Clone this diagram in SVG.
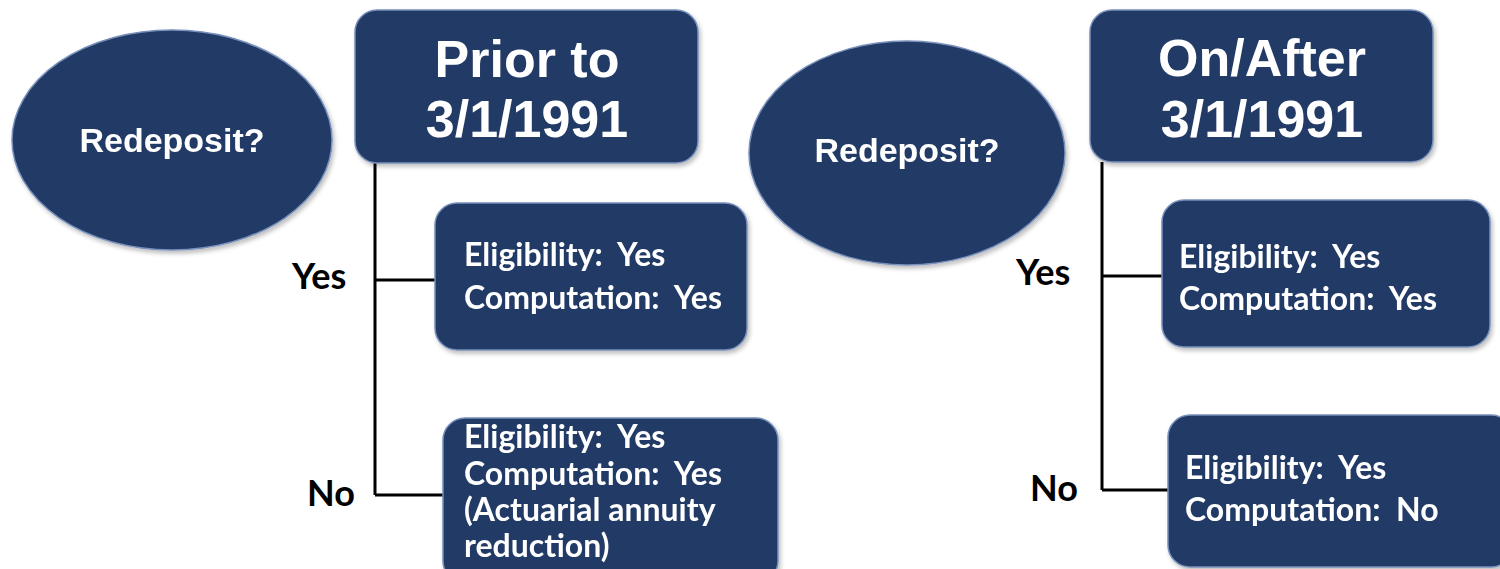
<svg xmlns="http://www.w3.org/2000/svg" width="1500" height="569" viewBox="0 0 1500 569">
<defs>
<style>
.node{fill:#223a66;stroke:#7890bb;stroke-width:1.5}
.title{font-family:"Liberation Sans",Arial,sans-serif;font-weight:bold;fill:#fff;text-anchor:middle}
.body{font-family:Lato,"Liberation Sans",sans-serif;font-weight:bold;fill:#fff;font-size:32px;white-space:pre}
.lbl{font-family:Lato,"Liberation Sans",sans-serif;font-weight:bold;fill:#000;font-size:36px}
.conn{stroke:#000;stroke-width:3;fill:none}
</style>
<filter id="sh" x="-10%" y="-10%" width="120%" height="120%">
<feDropShadow dx="2" dy="3" stdDeviation="2" flood-color="#000" flood-opacity="0.25"/>
</filter>
</defs>
<rect width="1500" height="569" fill="#fff"/>
<g id="connectors">
<path class="conn" d="M375,163 V495 M375,280 H436 M375,495 H444"/>
<path class="conn" d="M1102,162 V490 M1102,276 H1163 M1102,490 H1169"/>
</g>
<g id="q1" filter="url(#sh)">
<ellipse class="node" cx="172" cy="140" rx="160" ry="110"/>
<text class="title" x="172" y="152" font-size="34">Redeposit?</text>
</g>
<g id="h1" filter="url(#sh)">
<rect class="node" x="355" y="10" width="343" height="153" rx="22"/>
<text class="title" x="527" y="77" font-size="52">Prior to</text>
<text class="title" x="527" y="137" font-size="52">3/1/1991</text>
</g>
<g id="y1" filter="url(#sh)">
<rect class="node" x="435" y="203" width="312" height="147" rx="22"/>
<text class="body" x="464" y="266" xml:space="preserve">Eligibility:  Yes</text>
<text class="body" x="464" y="309" xml:space="preserve">Computation:  Yes</text>
</g>
<g id="n1" filter="url(#sh)">
<rect class="node" x="443" y="418" width="335" height="165" rx="22"/>
<text class="body" x="464" y="448" xml:space="preserve">Eligibility:  Yes</text>
<text class="body" x="464" y="485" xml:space="preserve">Computation:  Yes</text>
<text class="body" x="464" y="521">(Actuarial annuity</text>
<text class="body" x="464" y="557">reduction)</text>
</g>
<text class="lbl" x="292" y="289">Yes</text>
<text class="lbl" x="307" y="506">No</text>
<g id="q2" filter="url(#sh)">
<ellipse class="node" cx="907" cy="153" rx="158" ry="112"/>
<text class="title" x="907" y="162" font-size="34">Redeposit?</text>
</g>
<g id="h2" filter="url(#sh)">
<rect class="node" x="1090" y="10" width="343" height="152" rx="22"/>
<text class="title" x="1262" y="76" font-size="52">On/After</text>
<text class="title" x="1262" y="137" font-size="52">3/1/1991</text>
</g>
<g id="y2" filter="url(#sh)">
<rect class="node" x="1162" y="200" width="328" height="147" rx="22"/>
<text class="body" x="1179" y="268" xml:space="preserve">Eligibility:  Yes</text>
<text class="body" x="1179" y="310" xml:space="preserve">Computation:  Yes</text>
</g>
<g id="n2" filter="url(#sh)">
<rect class="node" x="1168" y="415" width="345" height="152" rx="22"/>
<text class="body" x="1185" y="479" xml:space="preserve">Eligibility:  Yes</text>
<text class="body" x="1185" y="521" xml:space="preserve">Computation:  No</text>
</g>
<text class="lbl" x="1016" y="285">Yes</text>
<text class="lbl" x="1030" y="501">No</text>
</svg>
